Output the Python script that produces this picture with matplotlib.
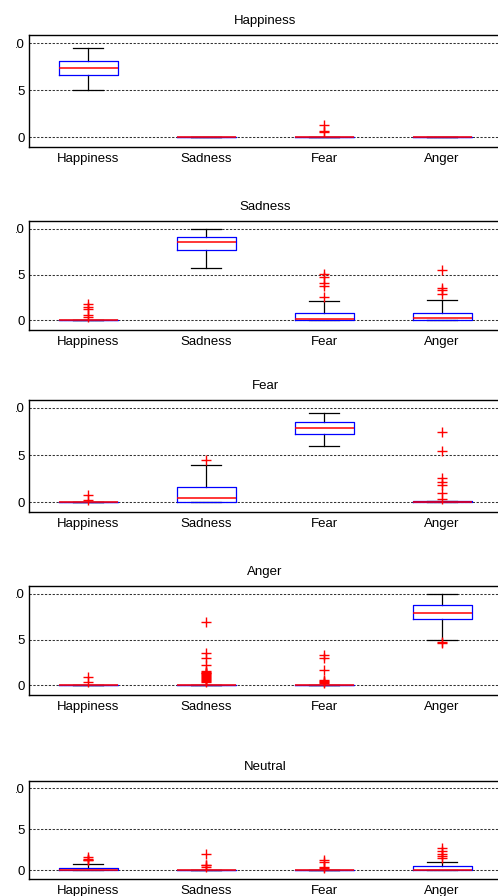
import matplotlib
matplotlib.use("Agg")
import matplotlib.pyplot as plt
from matplotlib.transforms import Bbox, TransformedBbox

plt.rcParams['font.family'] = ['Liberation Sans', 'DejaVu Sans']

# emotion rated (x axis) and emotion shown (one panel each)
categories = ['Happiness', 'Sadness', 'Fear', 'Anger']
panels = ['Happiness', 'Sadness', 'Fear', 'Anger', 'Neutral']

# box statistics, one row per panel, one value per category
q1 = [
    [6.6, 0.0, 0.0, 0.0],
    [0.0, 7.66, 0.0, 0.0],
    [0.0, 0.0, 7.2, 0.0],
    [0.0, 0.0, 0.0, 7.25],
    [0.0, 0.0, 0.0, 0.0],
]
medians = [
    [7.3, 0.0, 0.0, 0.0],
    [0.0, 8.53, 0.18, 0.29],
    [0.0, 0.43, 7.91, 0.0],
    [0.0, 0.0, 0.0, 7.95],
    [0.0, 0.0, 0.0, 0.0],
]
q3 = [
    [8.12, 0.0, 0.0, 0.0],
    [0.0, 9.08, 0.84, 0.84],
    [0.0, 1.63, 8.48, 0.1],
    [0.0, 0.0, 0.0, 8.76],
    [0.24, 0.0, 0.0, 0.5],
]
whisker_lo = [
    [4.97, 0.0, 0.0, 0.0],
    [0.0, 5.68, 0.0, 0.0],
    [0.0, 0.0, 5.96, 0.0],
    [0.0, 0.0, 0.0, 5.0],
    [0.0, 0.0, 0.0, 0.0],
]
whisker_hi = [
    [9.5, 0.0, 0.0, 0.0],
    [0.0, 10.0, 2.16, 2.27],
    [0.0, 3.9, 9.5, 0.15],
    [0.0, 0.0, 0.0, 10.0],
    [0.73, 0.0, 0.0, 1.0],
]
outliers = [
    [[], [], [1.3, 0.7, 0.5], []],
    [[1.8, 1.5, 1.2, 0.55, 0.4], [], [5.1, 4.7, 4.1, 3.7, 2.5], [5.5, 3.55, 3.3, 2.9]],
    [[0.75, 0.2], [4.5], [], [7.5, 5.4, 2.6, 2.15, 1.8, 1.0, 0.3]],
    [[0.9, 0.35],
     [6.9, 3.5, 3.0, 2.2, 1.6, 1.5, 1.4, 1.3, 1.2, 1.1, 1.0, 0.9, 0.8, 0.7, 0.6, 0.5, 0.4],
     [3.3, 2.95, 1.7, 0.6, 0.5, 0.4, 0.3],
     [4.6, 4.7]],
    [[1.6, 1.4, 1.3, 1.2], [2.0, 0.7, 0.6, 0.4], [1.3, 1.0, 0.4, 0.3], [2.7, 2.3, 2.0, 1.7, 1.5]],
]
yticks = [0, 5, 10]
ytick_labels = ['0', '5', '10']

W, H = 498, 896
fig = plt.figure(figsize=(W / 100, H / 100), dpi=100, facecolor='white')

# pixel rows of each axes (top, bottom)
rows = [(35, 147), (221, 330), (400, 512), (586, 695), (781, 879)]
left_px, right_px = 29, 501

# the reference is cropped on the left, only the last digit of "10" shows
clip = TransformedBbox(Bbox([[16 / W, 0], [1, 1]]), fig.transFigure)

for k, name in enumerate(panels):
    top, bot = rows[k]
    ax = fig.add_axes([left_px / W, 1 - bot / H, (right_px - left_px) / W, (bot - top) / H])

    stats = []
    for j, cat in enumerate(categories):
        stats.append(dict(med=medians[k][j], q1=q1[k][j], q3=q3[k][j],
                          whislo=whisker_lo[k][j], whishi=whisker_hi[k][j],
                          fliers=outliers[k][j], label=cat))

    ax.bxp(stats, positions=[1, 2, 3, 4], widths=0.5, capwidths=0.25,
           boxprops=dict(color='blue', lw=0.9, zorder=3),
           medianprops=dict(color='red', lw=1.1, zorder=5),
           whiskerprops=dict(color='black', lw=0.9, zorder=2),
           capprops=dict(color='black', lw=0.9, zorder=2),
           flierprops=dict(marker='+', markeredgecolor='red', markersize=7,
                           markeredgewidth=1.0, linestyle='none', zorder=6))

    ax.set_xlim(0.5, 4.5)
    ax.set_ylim(-1.05, 10.85)
    ax.set_yticks(yticks)
    ax.set_yticklabels(ytick_labels)
    ax.set_xticks([1, 2, 3, 4])
    ax.set_xticklabels(categories)
    ax.tick_params(axis='both', length=0, labelsize=9.5, colors='black')
    ax.tick_params(axis='y', pad=3)
    ax.tick_params(axis='x', pad=4)
    ax.yaxis.grid(True, color='#333333', linestyle=(0, (2.2, 1.5)), lw=0.75)
    ax.set_axisbelow(True)
    for sp in ax.spines.values():
        sp.set_color('black')
        sp.set_linewidth(1.0)
    ax.set_title(name, fontsize=9.5, pad=8)

    for lab in ax.get_yticklabels():
        lab.set_clip_box(clip)
        lab.set_clip_on(True)

fig.savefig('out.png', dpi=100, facecolor='white')
